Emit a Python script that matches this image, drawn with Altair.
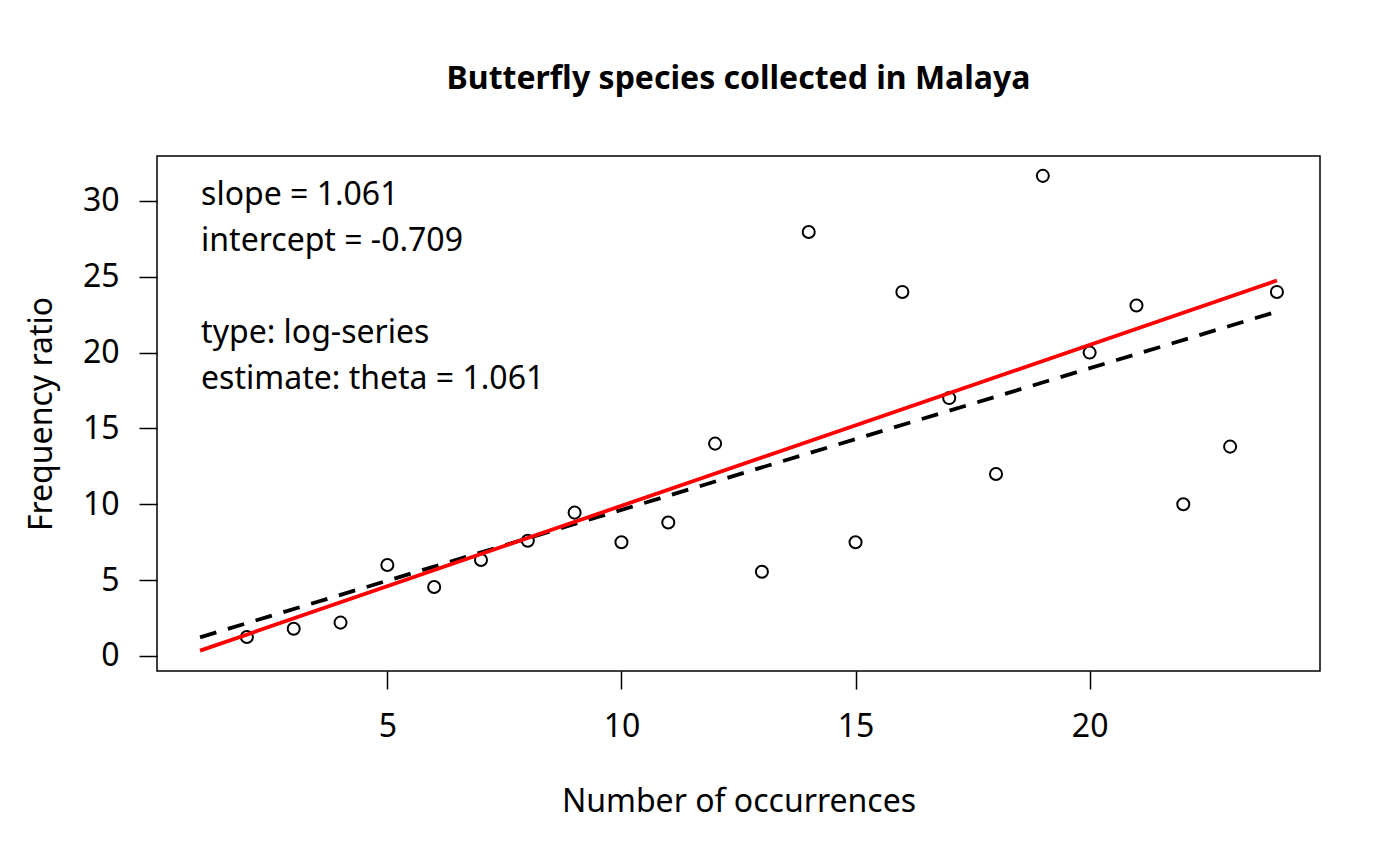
import altair as alt
import pandas as pd

occurrences = list(range(2, 25))
freq_ratio = [1.25, 1.8, 2.2, 6.0, 4.55, 6.33, 7.6, 9.45, 7.5, 8.8, 14.0, 5.55,
              27.95, 7.5, 24.0, 17.0, 12.0, 31.65, 20.0, 23.1, 10.0, 13.8, 24.0]

# Fitted line (red): slope / intercept from annotation
fit_x = [1, 24]
slope = 1.061
intercept = -0.709
fit_y = [intercept + slope * v for v in fit_x]

# Dashed reference line endpoints
ref_x = [1, 24]
ref_y = [1.23, 22.7]

# Annotation lines
ann_text = ["slope = 1.061", "intercept = -0.709", "type: log-series", "estimate: theta = 1.061"]
ann_y = [30.4, 27.35, 21.3, 18.25]
ann_x = [1.0, 1.0, 1.0, 1.0]

FONT = "Noto Sans"
FS = 32

pts = pd.DataFrame({"x": occurrences, "y": freq_ratio})
fit = pd.DataFrame({"x": fit_x, "y": fit_y})
ref = pd.DataFrame({"x": ref_x, "y": ref_y})
ann = pd.DataFrame({"x": ann_x, "y": ann_y, "t": ann_text})

xscale = alt.Scale(domain=[0.08, 24.92], nice=False, zero=False)
yscale = alt.Scale(domain=[-0.99, 32.96], nice=False, zero=False)

xaxis = alt.Axis(values=[5, 10, 15, 20], title="Number of occurrences", grid=False, domain=False,
                 tickSize=18, tickWidth=1.5, tickColor="black", labelFontSize=FS, labelFont=FONT,
                 labelColor="black", labelPadding=22, titleFontSize=FS, titleFont=FONT,
                 titleFontWeight="normal", titleColor="black", titlePadding=44)
yaxis = alt.Axis(values=[0, 5, 10, 15, 20, 25, 30], title="Frequency ratio", grid=False, domain=False,
                 tickSize=18, tickWidth=1.5, tickColor="black", labelFontSize=FS, labelFont=FONT,
                 labelColor="black", labelPadding=20, labelAngle=0, titleFontSize=FS, titleFont=FONT,
                 titleFontWeight="normal", titleColor="black", titlePadding=24)

points = alt.Chart(pts).mark_point(shape="circle", filled=False, color="black", size=145,
                                   strokeWidth=2, opacity=1).encode(
    x=alt.X("x:Q", scale=xscale, axis=xaxis),
    y=alt.Y("y:Q", scale=yscale, axis=yaxis),
)

ref_line = alt.Chart(ref).mark_line(color="black", strokeWidth=3.8, strokeDash=[17, 12]).encode(
    x=alt.X("x:Q", scale=xscale), y=alt.Y("y:Q", scale=yscale))

fit_line = alt.Chart(fit).mark_line(color="#FF0000", strokeWidth=3.8).encode(
    x=alt.X("x:Q", scale=xscale), y=alt.Y("y:Q", scale=yscale))

labels = alt.Chart(ann).mark_text(align="left", baseline="middle", font=FONT, fontSize=FS,
                                  color="black", dx=1).encode(
    x=alt.X("x:Q", scale=xscale), y=alt.Y("y:Q", scale=yscale), text="t:N")

chart = alt.layer(points, ref_line, fit_line, labels).properties(
    width=1163, height=515,
    title=alt.TitleParams("Butterfly species collected in Malaya", font=FONT, fontSize=FS,
                          fontWeight="bold", color="black", anchor="middle", offset=60),
    autosize=alt.AutoSizeParams(type="none"),
    padding={"left": 149, "top": 148, "right": 60, "bottom": 180},
).configure(background="white").configure_view(stroke="black", strokeWidth=1.5)

chart.save("out.html", embed_options={"renderer": "svg", "actions": False})
